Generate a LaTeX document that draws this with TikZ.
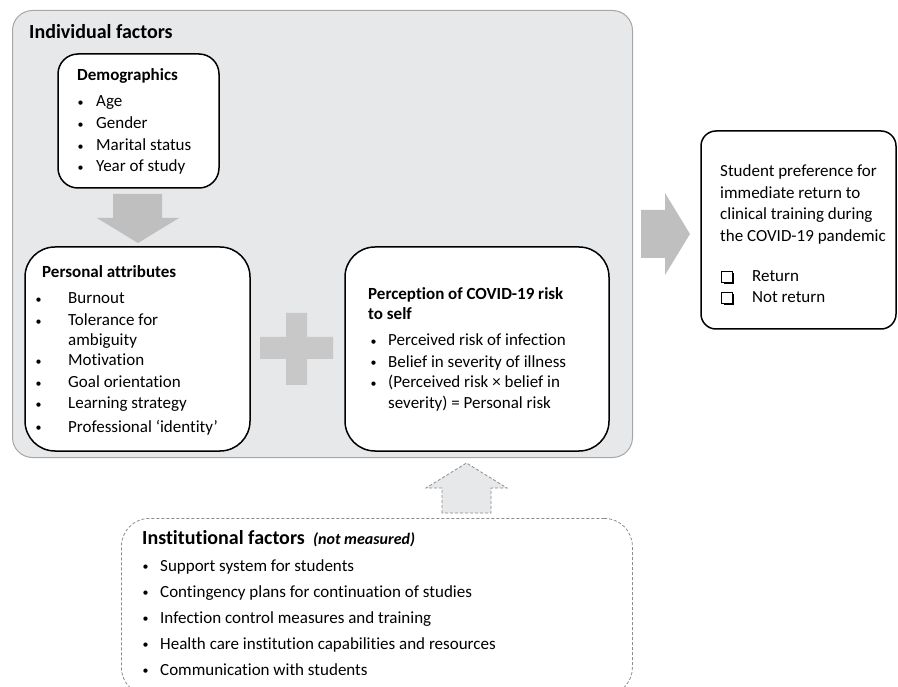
\documentclass[tikz,border=0pt]{standalone}
\usepackage{fontspec}
\setmainfont{Carlito}[Ligatures={NoCommon}]
\definecolor{panel}{HTML}{E7E8EA}
\definecolor{panelline}{HTML}{A6A6A6}
\definecolor{arrowfill}{HTML}{BFBFBF}
\definecolor{plusfill}{HTML}{C8C8C8}
\definecolor{dashline}{HTML}{8C8C8C}
\newcommand\bl[1]{\makebox[#1][l]{\hspace{1.5pt}\raisebox{0.6pt}{\fontsize{12}{12}\selectfont\textbullet}}}
\begin{document}
\begin{tikzpicture}[x=1pt,y=-1pt,
  txt/.style={inner sep=0pt, anchor=base west, font=\fontsize{17}{22}\selectfont},
  hd/.style={txt, font=\fontsize{17}{22}\selectfont\bfseries},
  big/.style={txt, font=\fontsize{20}{24}\selectfont\bfseries},
  box/.style={draw=black, line width=1.5pt, fill=white, anchor=north west, inner sep=0pt, outer sep=0pt},
  blockarrow/.style={fill=arrowfill, draw=none},
  chk/.style={draw=black, line width=0.7pt, fill=white}
]
\useasboundingbox (0,0) rectangle (898,687);

% Individual factors panel
\node[draw=panelline, line width=1pt, fill=panel, rounded corners=20pt, anchor=north west,
      minimum width=620pt, minimum height=447pt, inner sep=0pt] (panel) at (12,10) {};
\node[big] (ptitle) at (29,39) {Individual factors};

% Demographics
\node[box, rounded corners=20pt, minimum width=161pt, minimum height=134pt] (demo) at (58,54) {};
\node[hd] (demot) at (77,81) {Demographics};
\node[txt] (d1) at (76,107) {\bl{20pt}Age};
\node[txt] (d2) at (76,129) {\bl{20pt}Gender};
\node[txt] (d3) at (76,151) {\bl{20pt}Marital status};
\node[txt] (d4) at (76,172) {\bl{20pt}Year of study};

% down arrow
\path[blockarrow] (113,194) -- (162,194) -- (162,218) -- (179,218) -- (138,243) -- (97,218) -- (113,218) -- cycle;

% Personal attributes
\node[box, rounded corners=30pt, minimum width=225pt, minimum height=204pt] (pers) at (25,247) {};
\node[hd] (perst) at (42,278) {Personal attributes};
\node[txt] (p1) at (34,304) {\bl{34pt}Burnout};
\node[txt] (p2) at (34,326) {\bl{34pt}Tolerance for};
\node[txt] (p2b) at (68,345) {ambiguity};
\node[txt] (p3) at (34,366) {\bl{34pt}Motivation};
\node[txt] (p4) at (34,388) {\bl{34pt}Goal orientation};
\node[txt] (p5) at (34,409) {\bl{34pt}Learning strategy};
\node[txt] (p6) at (34,432) {\bl{34pt}Professional ‘identity’};

% plus sign
\path[fill=plusfill] (286,313) -- (307,313) -- (307,337) -- (333,337) -- (333,359) -- (307,359)
  -- (307,385) -- (286,385) -- (286,359) -- (260,359) -- (260,337) -- (286,337) -- cycle;

% Perception
\node[box, rounded corners=30pt, minimum width=264pt, minimum height=204pt] (perc) at (345,247) {};
\node[hd] (perct1) at (368,300) {Perception of COVID-19 risk};
\node[hd] (perct2) at (368,320) {to self};
\node[txt] (c1) at (369,346) {\bl{19pt}Perceived risk of infection};
\node[txt] (c2) at (369,367) {\bl{19pt}Belief in severity of illness};
\node[txt] (c3) at (369,388) {\bl{19pt}(Perceived risk × belief in};
\node[txt] (c3b) at (388,409) {severity) = Personal risk};

% right arrow
\path[blockarrow] (641,210) -- (665,210) -- (665,193) -- (690,234) -- (665,275) -- (665,258) -- (641,258) -- cycle;

% Outcome box
\node[box, rounded corners=15pt, minimum width=195pt, minimum height=198pt] (out) at (701,131) {};
\node[txt] (o1) at (720,177) {Student preference for};
\node[txt] (o2) at (720,199) {immediate return to};
\node[txt] (o3) at (720,220) {clinical training during};
\node[txt] (o4) at (720,242) {the COVID-19 pandemic};
\path[fill=black] (723.5,273.5) rectangle (734,284);
\path[chk] (721.5,271.5) rectangle (732,282);
\node[txt] (r1) at (752,282) {Return};
\path[fill=black] (723.5,294.5) rectangle (734,305);
\path[chk] (721.5,292.5) rectangle (732,303);
\node[txt] (r2) at (752,303) {Not return};

% up arrow (dashed)
\path[fill=panel, draw=dashline, line width=0.8pt, dash pattern=on 3pt off 2pt]
  (442,513) -- (442,488) -- (426,488) -- (466.5,463) -- (507,488) -- (491,488) -- (491,513) -- cycle;

% Institutional factors
\node[draw=dashline, line width=0.8pt, dash pattern=on 3pt off 2pt, rounded corners=28pt, anchor=north west,
      minimum width=511pt, minimum height=177pt, inner sep=0pt, fill=white] (inst) at (121,518) {};
\node[big] (instt) at (142,544) {Institutional factors};
\node[txt, font=\fontsize{16}{20}\selectfont\bfseries\itshape] (nm) at (313,544) {(not measured)};
\node[txt] (i1) at (141,571) {\bl{19pt}Support system for students};
\node[txt] (i2) at (141,597) {\bl{19pt}Contingency plans for continuation of studies};
\node[txt] (i3) at (141,623) {\bl{19pt}Infection control measures and training};
\node[txt] (i4) at (141,649) {\bl{19pt}Health care institution capabilities and resources};
\node[txt] (i5) at (141,675) {\bl{19pt}Communication with students};
\end{tikzpicture}
\end{document}
